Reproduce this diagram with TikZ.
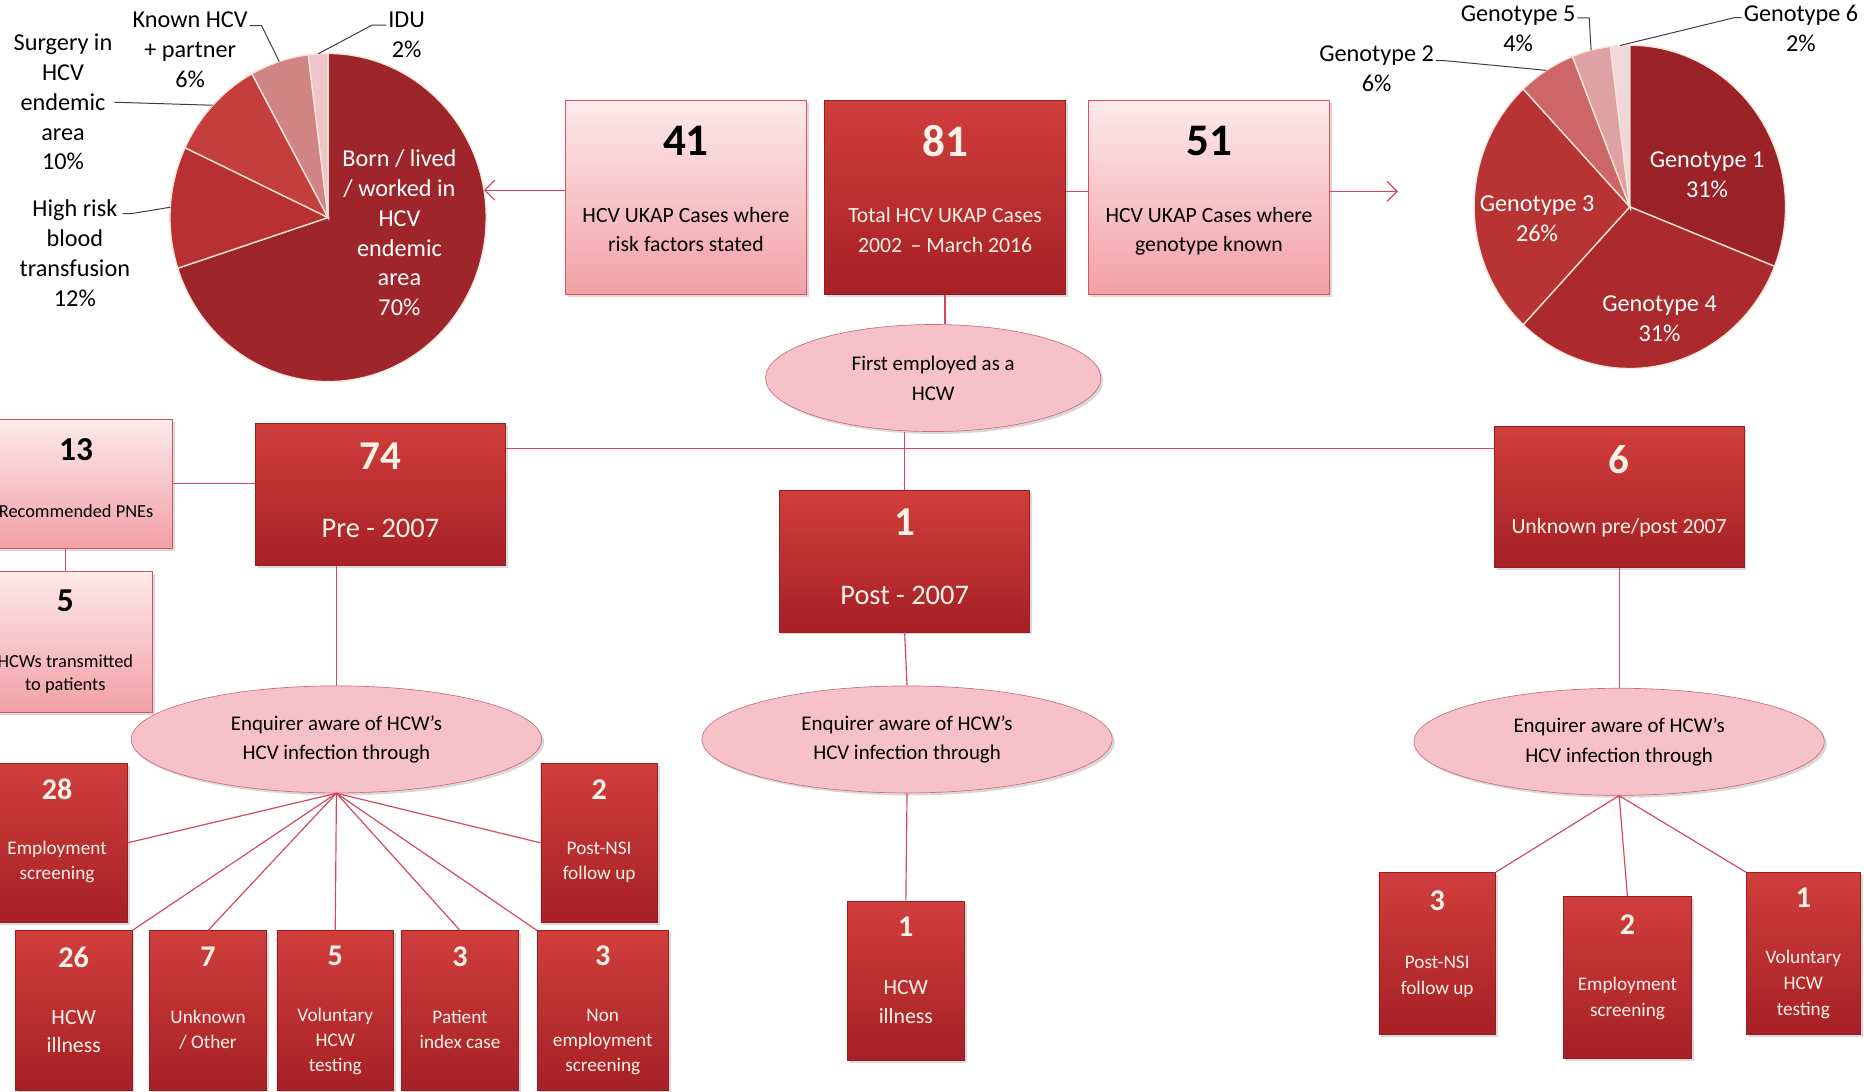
\documentclass[tikz,border=0pt]{standalone}
\usepackage{fontspec}
\setmainfont{Carlito}
\usetikzlibrary{shapes.geometric,arrows.meta,shadows}

\definecolor{darktop}{RGB}{208,62,60}
\definecolor{darkbot}{RGB}{166,32,38}
\definecolor{darkedge}{RGB}{150,30,35}
\definecolor{pinktop}{RGB}{253,234,234}
\definecolor{pinkbot}{RGB}{242,160,166}
\definecolor{pinkedge}{RGB}{220,80,95}
\definecolor{ovalfill}{RGB}{246,194,200}
\definecolor{ovaledge}{RGB}{205,110,120}
\definecolor{linkred}{RGB}{214,70,92}
\definecolor{paletext}{RGB}{253,242,232}
\definecolor{slice}{RGB}{250,228,215}
\definecolor{riskA}{RGB}{158,38,42}
\definecolor{riskB}{RGB}{184,48,50}
\definecolor{riskC}{RGB}{196,62,62}
\definecolor{riskD}{RGB}{208,132,132}
\definecolor{riskE}{RGB}{236,198,200}
\definecolor{genoA}{RGB}{155,35,40}
\definecolor{genoB}{RGB}{172,42,46}
\definecolor{genoC}{RGB}{184,52,52}
\definecolor{genoD}{RGB}{205,102,102}
\definecolor{genoE}{RGB}{222,162,164}
\definecolor{genoF}{RGB}{240,215,216}

\newcommand{\topnum}[1]{{\bfseries\fontsize{27}{30}\selectfont#1}}
\newcommand{\midnum}[1]{{\bfseries\fontsize{24.5}{27}\selectfont#1}}
\newcommand{\sidenum}[1]{{\bfseries\fontsize{20}{22}\selectfont#1}}
\newcommand{\smallnum}[1]{{\bfseries\fontsize{18}{20}\selectfont#1}}
\newcommand{\lowpad}[1]{\rule[-#1]{0pt}{0pt}}

\tikzset{
  boxshadow/.style={drop shadow={shadow xshift=1.5pt,shadow yshift=-1.5pt,opacity=.3}},
  darkbox/.style={draw=darkedge, top color=darktop, bottom color=darkbot, text=paletext, align=center, inner sep=0pt, boxshadow},
  pinkbox/.style={draw=pinkedge, top color=pinktop, bottom color=pinkbot, align=center, inner sep=0pt, boxshadow},
  topbox/.style={minimum width=5.075cm, minimum height=4.075cm, font=\fontsize{13}{17.8}\selectfont},
  midbox/.style={darkbox, minimum width=5.25cm, minimum height=2.975cm, font=\fontsize{17}{20}\selectfont},
  smallbox/.style={darkbox, minimum width=2.45cm, minimum height=3.35cm, font=\fontsize{11.5}{15}\selectfont},
  oval/.style={ellipse, draw=ovaledge, fill=ovalfill, inner sep=0pt, align=center, font=\fontsize{12.5}{17.8}\selectfont, boxshadow},
  enq/.style={oval, minimum width=8.625cm, minimum height=2.25cm},
  link/.style={draw=linkred, line width=0.7pt},
  arrowed/.style={-{Straight Barb[length=6pt,width=12pt]}},
  leader/.style={draw=black!75, line width=0.6pt},
  pielabel/.style={align=center, inner sep=1pt, font=\fontsize{14.5}{17.8}\selectfont},
}

\begin{document}
\begin{tikzpicture}[x=0.025cm, y=-0.025cm]
\useasboundingbox (0,0) rectangle (1568,918);

% risk factor pie
\begin{scope}[shift={(276,183)}, y=0.025cm]
  \foreach \a/\b/\c in {90/-162/riskA, -162/-205.2/riskB, -205.2/-241.2/riskC, -241.2/-262.8/riskD, -262.8/-270/riskE}
    \filldraw[fill=\c, draw=slice, line width=0.8pt] (0,0) -- (\a:133 and 138) arc[start angle=\a, end angle=\b, x radius=133, y radius=138] -- cycle;
  \coordinate (lpArr) at (9.6:133 and 138);
  \coordinate (lpHigh) at (176.4:133 and 138);
  \coordinate (lpSurg) at (136.8:133 and 138);
  \coordinate (lpKnown) at (108:133 and 138);
  \coordinate (lpIDU) at (93.6:133 and 138);
\end{scope}

% genotype pie
\begin{scope}[shift={(1371,174)}, y=0.025cm]
  \foreach \a/\b/\c in {90/-21.6/genoA, -21.6/-133.2/genoB, -133.2/-226.8/genoC, -226.8/-248.4/genoD, -248.4/-262.8/genoE, -262.8/-270/genoF}
    \filldraw[fill=\c, draw=slice, line width=0.8pt] (0,0) -- (\a:131 and 136) arc[start angle=\a, end angle=\b, x radius=131, y radius=136] -- cycle;
  \coordinate (rpG2) at (122.4:131 and 136);
  \coordinate (rpG5) at (104.4:131 and 136);
  \coordinate (rpG6) at (93.6:131 and 136);
\end{scope}

% pie labels
\node[pielabel] (lSurg) at (53,86) {Surgery in\\HCV\\endemic\\area\\10\%};
\node[pielabel] (lKnown) at (160,42) {Known HCV\\+ partner\\6\%};
\node[pielabel] (lIDU) at (342,29) {IDU\\2\%};
\node[pielabel] (lHigh) at (63,213) {High risk\\blood\\transfusion\\12\%};
\node[pielabel, text=white] (lBorn) at (336,196) {Born / lived\\/ worked in\\HCV\\endemic\\area\\70\%};
\node[pielabel] (rG2) at (1158,58) {Genotype 2\\6\%};
\node[pielabel] (rG5) at (1277,24) {Genotype 5\\4\%};
\node[pielabel] (rG6) at (1515,24) {Genotype 6\\2\%};
\node[pielabel, text=white] (rG1) at (1436,147) {Genotype 1\\31\%};
\node[pielabel, text=white] (rG3) at (1293,184) {Genotype 3\\26\%};
\node[pielabel, text=white] (rG4) at (1396,268) {Genotype 4\\31\%};

\draw[leader] (lSurg.east) -- (lpSurg);
\draw[leader] (lKnown.north east) ++(0,13) -- ++(10,0) -- (lpKnown);
\draw[leader] (lIDU.north west) ++(0,13) -- ++(-12,0) -- (lpIDU);
\draw[leader] (lHigh.north east) ++(-8,13) -- ++(8,0) -- (lpHigh);
\draw[leader] (rG2.north east) ++(0,14) -- ++(8,0) -- (rpG2);
\draw[leader] (rG5.north east) ++(0,12) -- ++(10,0) -- (rpG5);
\draw[leader] (rG6.north west) ++(0,12) -- ++(-6,0) -- (rpG6);

% top row
\node[pinkbox, topbox] (risk) at (577,166) {\topnum{41}\\[22pt]HCV UKAP Cases where\\risk factors stated\lowpad{10pt}};
\node[darkbox, topbox] (total) at (795,166) {\topnum{81}\\[22pt]Total HCV UKAP Cases\\2002 \,-- March 2016\lowpad{10pt}};
\node[pinkbox, topbox] (geno) at (1017,166) {\topnum{51}\\[22pt]HCV UKAP Cases where\\genotype known\lowpad{10pt}};
\coordinate (rArr) at (1176,161);

\node[oval, minimum width=7.05cm, minimum height=2.25cm] (first) at (785,318) {First employed as a\\HCW};

% second row
\node[midbox] (pre) at (320,416) {\midnum{74}\\[21pt]Pre - 2007\lowpad{5pt}};
\node[midbox] (post) at (761,472) {\midnum{1}\\[21pt]Post - 2007\lowpad{5pt}};
\node[midbox, font=\fontsize{13}{17.8}\selectfont] (unk) at (1362,418) {\midnum{6}\\[18pt]Unknown pre/post 2007\lowpad{9pt}};
\node[pinkbox, minimum width=4.05cm, minimum height=2.725cm, font=\fontsize{11}{14}\selectfont] (pne) at (64,407) {\sidenum{13}\\[20pt]Recommended PNEs\lowpad{7pt}};
\node[pinkbox, minimum width=3.65cm, minimum height=2.975cm, font=\fontsize{11}{14.2}\selectfont] (trans) at (55,540) {\sidenum{5}\\[19pt]HCWs transmitted\\to patients};

% enquirer ovals
\node[enq] (eL) at (283,622) {Enquirer aware of HCW’s\\HCV infection through};
\node[enq] (eM) at (763,622) {Enquirer aware of HCW’s\\HCV infection through};
\node[enq] (eR) at (1362,624) {Enquirer aware of HCW’s\\HCV infection through};

% pre-2007 outcomes
\node[smallbox, minimum width=2.95cm] (emp) at (48,709) {\smallnum{28}\\[17.7pt]Employment\\screening\lowpad{16pt}};
\node[smallbox] (nsi) at (504,709) {\smallnum{2}\\[17.7pt]Post-NSI\\follow up\lowpad{16pt}};
\node[smallbox, font=\fontsize{13}{17}\selectfont] (ill) at (62,850) {\smallnum{26}\\[17pt]HCW\\illness\lowpad{13pt}};
\node[smallbox] (oth) at (175,850) {\smallnum{7}\\[19pt]Unknown\\/ Other\lowpad{15pt}};
\node[smallbox] (vol) at (282,850) {\smallnum{5}\\[18.4pt]Voluntary\\HCW\\testing};
\node[smallbox] (idx) at (387,850) {\smallnum{3}\\[19pt]Patient\\index case\lowpad{15pt}};
\node[smallbox, minimum width=2.75cm] (nonemp) at (507,850) {\smallnum{3}\\[18.4pt]Non\\employment\\screening};

% post-2007 outcome
\node[smallbox, font=\fontsize{13}{17}\selectfont] (ill2) at (762,825) {\smallnum{1}\\[18pt]HCW\\illness\lowpad{13pt}};

% unknown outcomes
\node[smallbox, minimum height=3.4cm, font=\fontsize{11.5}{15.6}\selectfont] (nsi2) at (1209,802) {\smallnum{3}\\[19.4pt]Post-NSI\\follow up\lowpad{13pt}};
\node[smallbox, minimum width=2.7cm, minimum height=3.4cm, font=\fontsize{11.5}{15.6}\selectfont] (emp2) at (1369,822) {\smallnum{2}\\[17.8pt]Employment\\screening\lowpad{14pt}};
\node[smallbox, minimum width=2.4cm, minimum height=3.4cm, font=\fontsize{11.5}{15.6}\selectfont] (vol2) at (1517,802) {\smallnum{1}\\[17.8pt]Voluntary\\HCW\\testing};

% connectors
\draw[link, arrowed] (risk.west |- lpArr) -- (lpArr);
\draw[link] (total.east |- rArr) -- (geno.west |- rArr);
\draw[link, arrowed] (geno.east |- rArr) -- (rArr);
\draw[link] (total.south) -- (total.south |- first.north);
\draw[link] (post.north) -- (post.north |- first.south);
\draw[link] ([yshift=-15pt]pre.north east) -- ([yshift=-15pt]pre.north east -| unk.west);
\draw[link] (pne.east) -- (pne.east -| pre.west);
\draw[link] (trans.north) -- (trans.north |- pne.south);
\draw[link] (eL.north) -- (eL.north |- pre.south);
\draw[link] (post.south) -- (eM.north);
\draw[link] (eM.south) -- (ill2.north);
\draw[link] (unk.south) -- (eR.north);
\foreach \t in {emp.east, ill.north east, oth.north, vol.north, idx.north, nonemp.north west, nsi.west}
  \draw[link] (eL.south) -- (\t);
\foreach \t in {nsi2.north east, emp2.north, vol2.north west}
  \draw[link] (eR.south) -- (\t);
\end{tikzpicture}
\end{document}
